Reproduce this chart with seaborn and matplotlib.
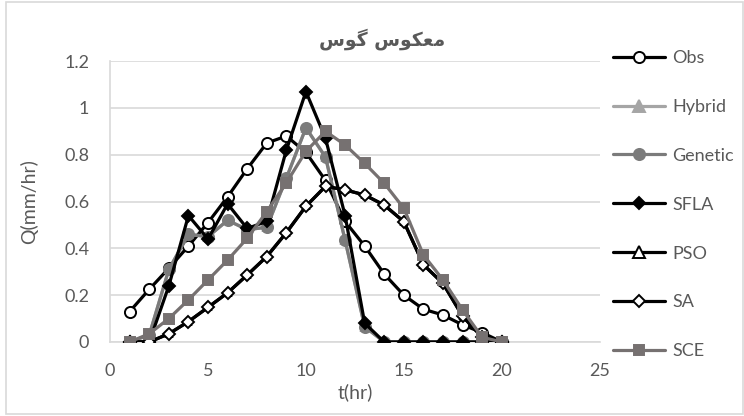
import numpy as np
import pandas as pd
import seaborn as sns
import matplotlib.pyplot as plt
from matplotlib.lines import Line2D
from matplotlib.patches import Rectangle

# hydrograph values
t = list(range(1, 21))
obs = [0.13, 0.225, 0.315, 0.41, 0.51, 0.62, 0.74, 0.85, 0.88, 0.81,
       0.69, 0.515, 0.41, 0.29, 0.2, 0.14, 0.115, 0.073, 0.04, 0]
genetic = [0, 0.03, 0.31, 0.46, 0.45, 0.52, 0.48, 0.49, 0.70, 0.915,
           0.79, 0.435, 0.065, 0, 0, 0, 0, 0, 0, 0]
hybrid = list(genetic)
sfla = [0, 0, 0.24, 0.54, 0.44, 0.59, 0.485, 0.515, 0.82, 1.07,
        0.87, 0.54, 0.08, 0, 0, 0, 0, 0, 0, 0]
sa = [0, 0, 0.035, 0.087, 0.148, 0.21, 0.286, 0.365, 0.467, 0.58,
      0.665, 0.65, 0.628, 0.585, 0.514, 0.33, 0.25, 0.11, 0.02, 0]
pso = list(sa)
sce = [0, 0.035, 0.10, 0.18, 0.265, 0.35, 0.443, 0.557, 0.68, 0.815,
       0.9, 0.842, 0.763, 0.678, 0.571, 0.372, 0.265, 0.137, 0.02, 0]

names = ['Obs', 'Hybrid', 'Genetic', 'SFLA', 'PSO', 'SA', 'SCE']
series = [obs, hybrid, genetic, sfla, pso, sa, sce]

# line colour, marker, face colour, marker size in plot (hidden ones smaller)
styles = {
    'Obs': ('black', 'o', 'white', 8),
    'Hybrid': ('#a5a5a5', '^', '#a5a5a5', 5.5),
    'Genetic': ('#7b7b7b', 'o', '#7b7b7b', 8),
    'SFLA': ('black', 'D', 'black', 6.5),
    'PSO': ('black', '^', 'white', 4.5),
    'SA': ('black', 'D', 'white', 6.5),
    'SCE': ('#767171', 's', '#767171', 7.5),
}
leg_size = {'o': 8, '^': 8, 'D': 6.5, 's': 7.5}

sns.set_style('white')
plt.rcParams['font.family'] = ['Lato', 'DejaVu Sans']
grey = '#595959'

fig = plt.figure(figsize=(7.44, 4.16), dpi=100)
ax = fig.add_axes([0.148, 0.178, 0.658, 0.675])

for name, vals in zip(names, series):
    c, m, fc, ms = styles[name]
    df = pd.DataFrame({'t': t, 'Q': vals})
    sns.lineplot(data=df, x='t', y='Q', ax=ax, color=c, lw=2.3,
                 marker=m, markersize=ms, markerfacecolor=fc,
                 markeredgecolor=c, markeredgewidth=1.4, zorder=3)

ax.set_xlim(0, 25)
ax.set_ylim(0, 1.2)
ax.set_xticks([0, 5, 10, 15, 20, 25])
ax.set_yticks([0, 0.2, 0.4, 0.6, 0.8, 1, 1.2])
ax.set_yticklabels(['0', '0.2', '0.4', '0.6', '0.8', '1', '1.2'])
ax.yaxis.grid(True, color='#d9d9d9', lw=1.2)
ax.set_axisbelow(True)
for s in ['top', 'right']:
    ax.spines[s].set_visible(False)
ax.spines['left'].set_color('#d9d9d9')
ax.spines['bottom'].set_color('#d9d9d9')
ax.spines['left'].set_linewidth(1.2)
ax.spines['bottom'].set_linewidth(1.2)
ax.tick_params(length=0, labelsize=13, labelcolor=grey)
ax.tick_params(axis='x', pad=15)
ax.tick_params(axis='y', pad=15)
ax.set_xlabel('t(hr)', fontsize=14, color=grey, labelpad=3)
ax.set_ylabel('Q(mm/hr)', fontsize=14, color=grey)
ax.yaxis.set_label_coords(-0.147, 0.5)

# Persian title, shaped by hand (presentation forms, visual order)
title = '\uFEB1\uFEEE\uFB94 \uFEB1\uFEEE\uFB91\uFECC\uFEE3'
fig.text(0.513, 0.905, title, ha='center', va='center', fontsize=13.5,
         fontweight='bold', color=grey, family=['DejaVu Sans'])

handles = []
for name in names:
    c, m, fc, ms = styles[name]
    handles.append(Line2D([], [], color=c, lw=2.3, marker=m,
                          markersize=leg_size[m], markerfacecolor=fc,
                          markeredgecolor=c, markeredgewidth=1.4))
leg = fig.legend(handles, names, loc='upper left',
                 bbox_to_anchor=(0.814, 0.897), frameon=False,
                 fontsize=13, handlelength=2.9, handletextpad=0.4,
                 labelspacing=1.82, borderaxespad=0)
for txt in leg.get_texts():
    txt.set_color(grey)

fig.patches.append(Rectangle((0.008, 0.004), 0.99, 0.99, transform=fig.transFigure,
                             fill=False, ec='#d9d9d9', lw=1.2))

fig.savefig('out.png', dpi=100)
